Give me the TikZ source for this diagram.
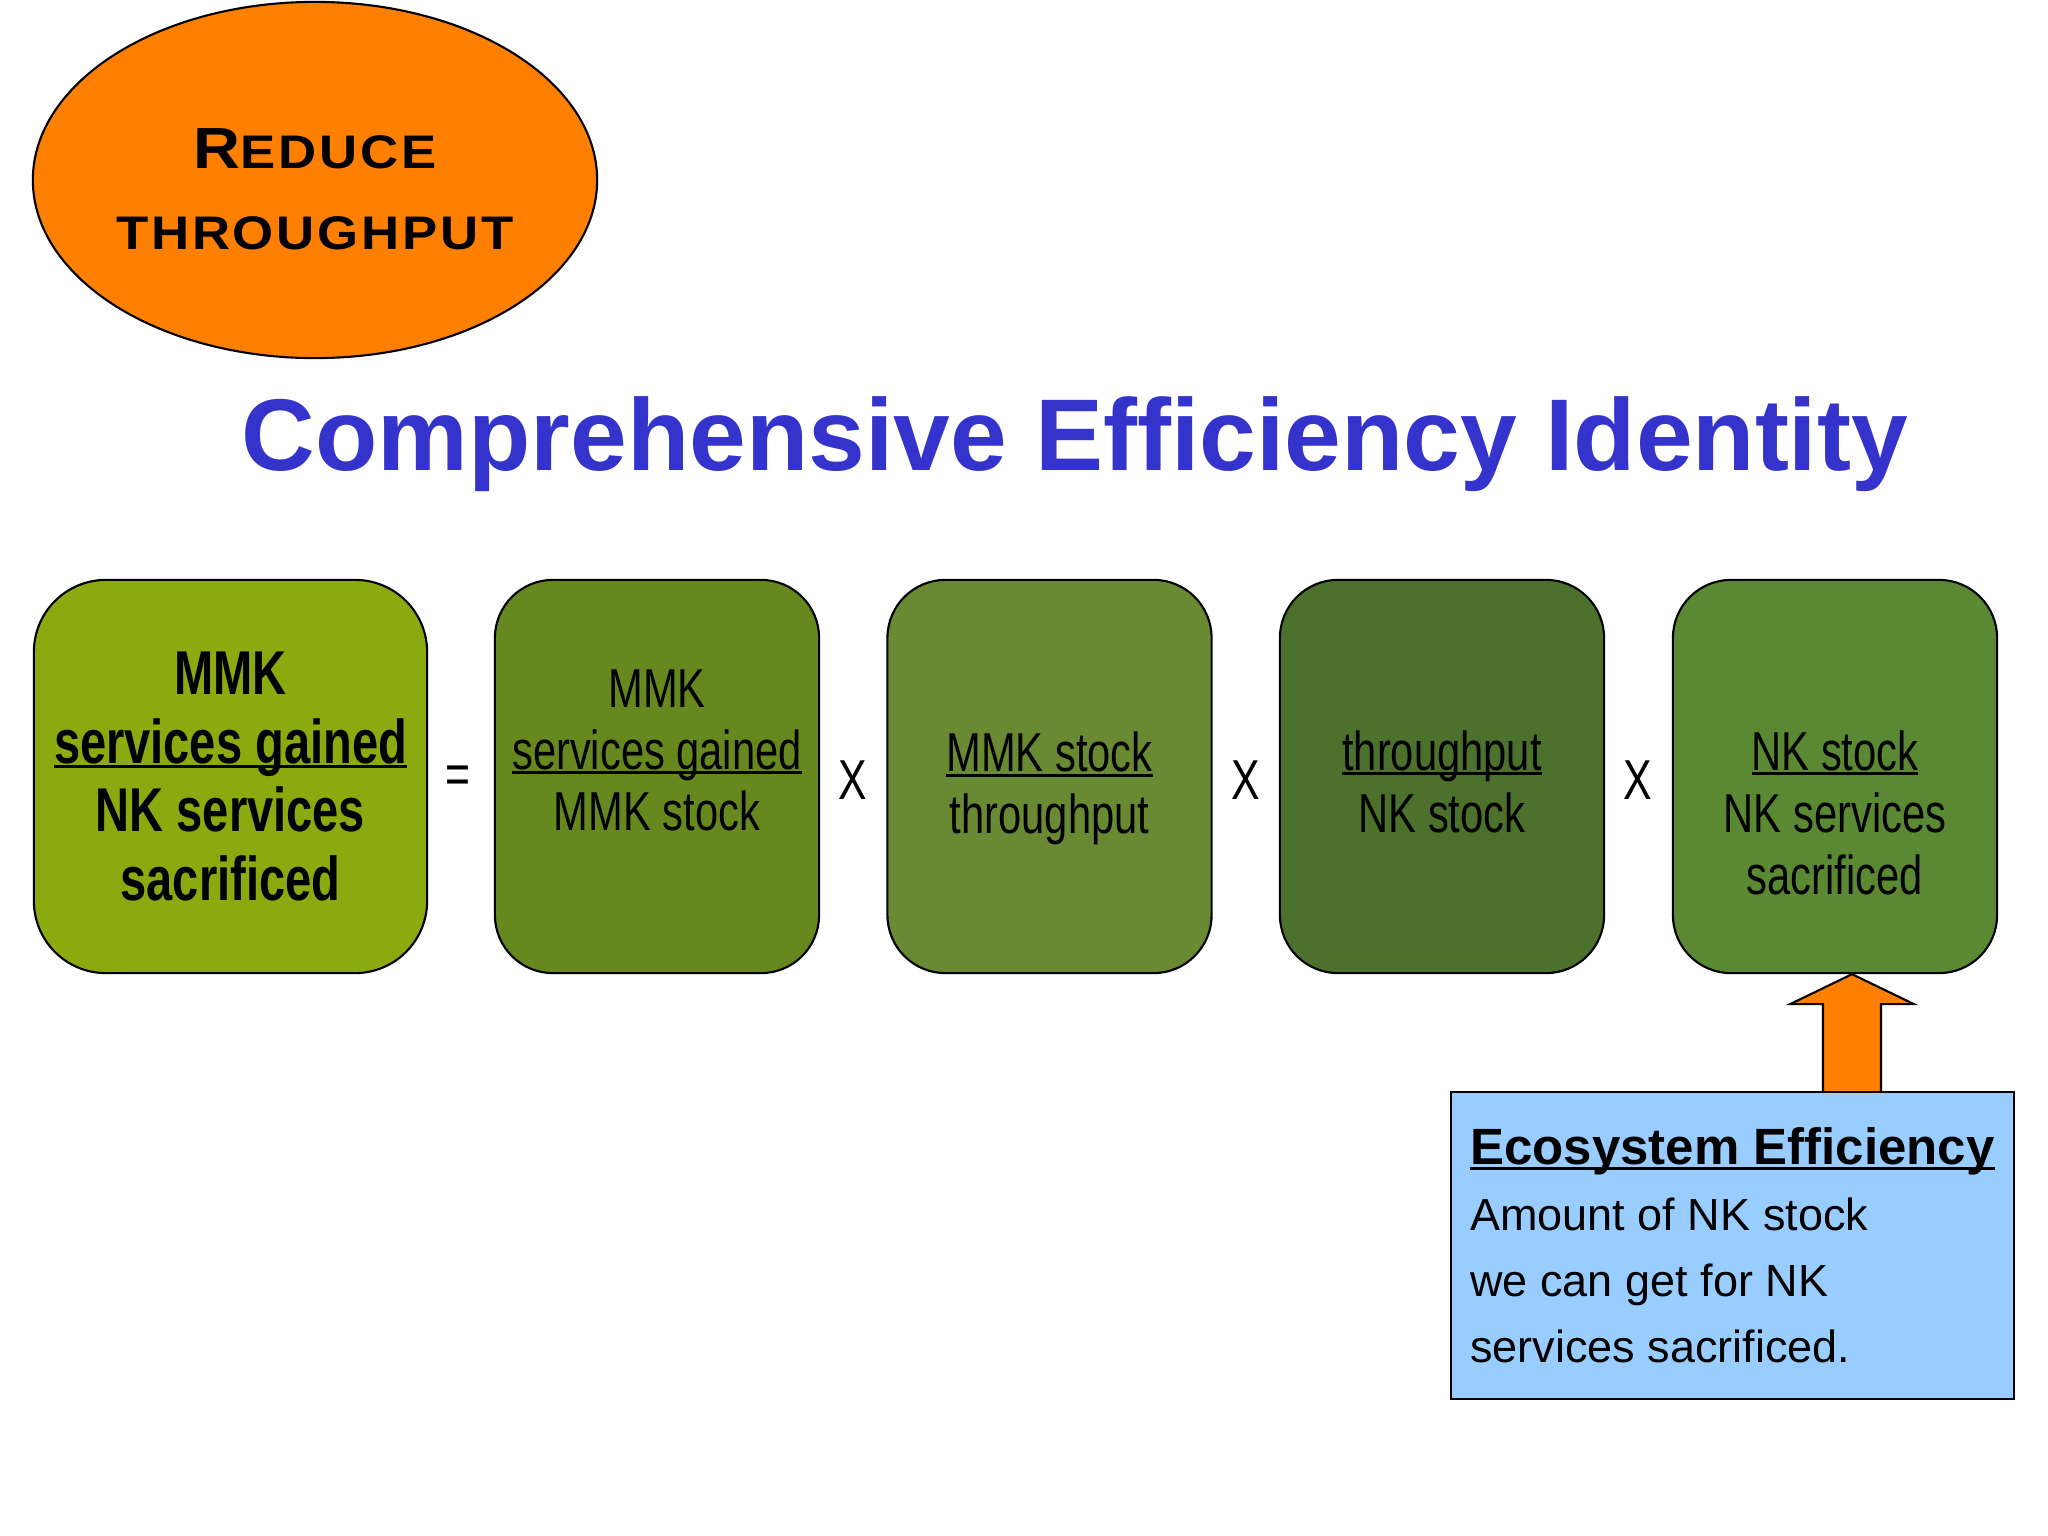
\documentclass[tikz,border=0pt]{standalone}
\usepackage{fontspec}
\setmainfont{Liberation Sans}
\newfontfamily\narrowfont[FakeStretch=0.76]{Liberation Sans}
\newfontfamily\widefont[FakeStretch=1.12,LetterSpace=6]{Liberation Sans}
\usetikzlibrary{shapes.geometric,calc}

\definecolor{titleblue}{HTML}{3434CC}
\definecolor{ovalorange}{HTML}{FF8000}
\definecolor{ecoblue}{HTML}{99CCFF}
\definecolor{greenA}{HTML}{8AAA10}
\definecolor{greenB}{HTML}{67881F}
\definecolor{greenC}{HTML}{6A8933}
\definecolor{greenD}{HTML}{4C712C}
\definecolor{greenE}{HTML}{5A8833}

% fraction bar under a line of text
\newcommand{\fracline}[1]{\setbox0\hbox{#1}\leavevmode\rlap{\rule[-1.4pt]{\wd0}{0.85pt}}\box0}

\tikzset{
  box/.style={draw, line width=0.6pt, rounded corners=0.58cm,
    minimum width=3.24cm, minimum height=3.93cm, inner sep=0pt},
  frac/.style={align=center, font={\narrowfont\fontsize{15.6}{17.6}\selectfont}},
  op/.style={font={\narrowfont\fontsize{16}{16}\selectfont}, inner sep=0pt}
}

\begin{document}
\begin{tikzpicture}[x=0.01cm, y=-0.01cm]
  \useasboundingbox (0,0) rectangle (2048,1536);

  \node[draw, ellipse, fill=ovalorange, line width=0.6pt, inner sep=0pt,
        minimum width=5.64cm, minimum height=3.56cm] (reduce) at (315,180) {};
  \node[align=center, font={\widefont\bfseries\fontsize{13.4}{23}\selectfont}]
    (rtext) at ([yshift=-0.09cm]reduce.center)
    {{\fontsize{16.5}{23}\selectfont R}EDUCE\\
     THROUGHPUT};

  \node[anchor=base, text=titleblue, font={\bfseries\fontsize{29}{34}\selectfont}]
    (title) at (1075,470) {Comprehensive Efficiency Identity};

  % the identity
  \node[box, fill=greenA, minimum width=3.93cm, rounded corners=0.72cm] (b1) at (230.5,776.5) {};
  \node[box, fill=greenB] (b2) at (657,776.5) {};
  \node[box, fill=greenC] (b3) at (1049.5,776.5) {};
  \node[box, fill=greenD] (b4) at (1442,776.5) {};
  \node[box, fill=greenE] (b5) at (1835,776.5) {};

  \node[align=center, font={\narrowfont\bfseries\fontsize{17.6}{19.5}\selectfont}] (t1) at (b1.center)
    {MMK\\\fracline{services gained}\\NK services\\sacrificed};
  \node[frac] (t2) at ([yshift=0.26cm]b2.center) {MMK\\\fracline{services gained}\\MMK stock};
  \node[frac] (t3) at ([yshift=-0.12cm]b3.center) {\fracline{MMK stock}\\throughput};
  \node[frac] (t4) at ([yshift=-0.05cm]b4.center) {\fracline{throughput}\\NK stock};
  \node[frac] (t5) at ([yshift=-0.36cm]b5.center) {\fracline{NK stock}\\NK services\\sacrificed};

  \node[op] (eq) at (458,780) {=};
  \node[op] (x1) at (853,780) {X};
  \node[op] (x2) at (1246,780) {X};
  \node[op] (x3) at (1638,780) {X};

  % ecosystem efficiency
  \coordinate (tip) at ([xshift=0.17cm]b5.south);
  \draw[fill=ovalorange, line width=0.6pt] (tip) -- ++(62,30) -- ++(-33,0) -- ++(0,89)
    -- ++(-58,0) -- ++(0,-89) -- ++(-33,0) -- cycle;

  \node[draw, fill=ecoblue, line width=0.6pt, minimum width=5.63cm, minimum height=3.07cm,
        align=left, font={\fontsize{12.8}{18.8}\selectfont}] (eco) at (1732.5,1245.5)
    {{\bfseries\fontsize{14.5}{18.8}\selectfont\fracline{Ecosystem Efficiency}}\\
     Amount of NK stock\\we can get for NK\\services sacrificed.};
\end{tikzpicture}
\end{document}
